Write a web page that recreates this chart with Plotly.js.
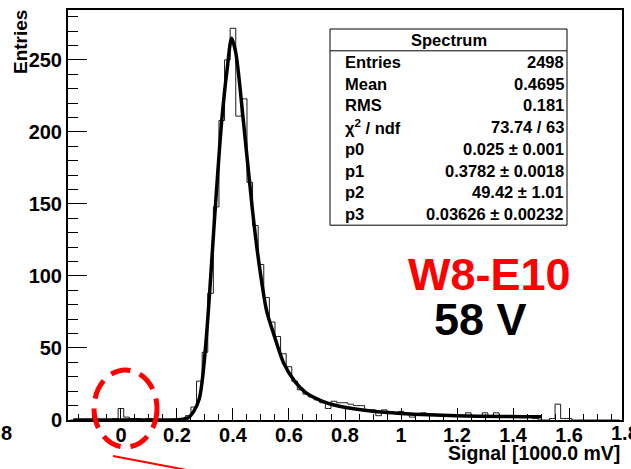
<!DOCTYPE html>
<html><head><meta charset="utf-8">
<script src="https://cdn.plot.ly/plotly-3.0.1.min.js"></script>
<style>html,body{margin:0;padding:0;background:#fff;overflow:hidden}</style>
</head><body><div id="chart" style="width:631px;height:469px"></div>
<script>
// Histogram "Spectrum": bin centres (width 0.02) and entries
const binCenters = [
 -0.18,-0.16,-0.14,-0.12,-0.10,-0.08,-0.06,-0.04,-0.02,0.00,
 0.02,0.04,0.06,0.08,0.10,0.12,0.14,0.16,0.18,0.20,
 0.22,0.24,0.26,0.28,0.30,0.32,0.34,0.36,0.38,0.40,
 0.42,0.44,0.46,0.48,0.50,0.52,0.54,0.56,0.58,0.60,
 0.62,0.64,0.66,0.68,0.70,0.72,0.74,0.76,0.78,0.80,
 0.82,0.84,0.86,0.88,0.90,0.92,0.94,0.96,0.98,1.00,
 1.02,1.04,1.06,1.08,1.10,1.12,1.14,1.16,1.18,1.20,
 1.22,1.24,1.26,1.28,1.30,1.32,1.34,1.36,1.38,1.40,
 1.42,1.44,1.46,1.48,1.50,1.52,1.54,1.56,1.58,1.60,
 1.62,1.64,1.66,1.68,1.70,1.72,1.74,1.76,1.78];
const counts = [
 0,0,0,0,0,0,0,0,1,8,
 2,1,1,0,1,0,0,0,0,0,
 1,3,9,27,47,88,148,208,250,272,
 211,223,165,135,108,85,68,58,46,37,
 27,21,18,16,14,12,8,13,12,12,
 11,10,10,7,7,3,7,5,5,6,
 4,2,4,5,4,4,3,3,3,3,
 3,5,3,3,5,3,5,2,2,2,
 2,2,2,1,0,0,1,11,1,1,
 0,0,0,0,0,0,0,0,0];
// Fit curve
const fitX = [-0.17,0.00,0.18,0.22,0.24,0.26,0.28,0.29,0.30,0.31,0.32,0.335,0.36,0.38,0.395,0.41,0.437,0.47,0.49,0.52,0.545,0.58,0.62,0.66,0.72,0.78,0.90,1.00,1.20,1.50];
const fitY = [0,0,0,0.5,1.5,6,15,27,46,70,98,142,208,245,265,255,208,145,113,76,60,40,27,19,13,9.5,6,4.6,3,2.2];
// Stats box
const statsTitle = "Spectrum";
const statsLabels = ["Entries","Mean","RMS","\u03c7<sup>2</sup> / ndf","p0","p1","p2","p3"];
const statsValues = ["2498","0.4695","0.181","73.74 / 63","0.025 \u00b1 0.001","0.3782 \u00b1 0.0018","49.42 \u00b1 1.01","0.03626 \u00b1 0.00232"];
const xTitle = "Signal [1000.0 mV]";
const yTitle = "Entries";
const label1 = "W8-E10";
const label2 = "58 V";

const FONT = "Liberation Sans, Arial, Helvetica, sans-serif";
const L = 68, T = 10, W = 554, H = 410;
const px = x => (x - L) / W;
const py = y => (T + H - y) / H;

const traces = [
  {x: binCenters, y: counts, type: 'scatter', mode: 'lines',
   line: {shape: 'hvh', color: '#1a1a1a', width: 1}, hoverinfo: 'skip'},
  {x: fitX, y: fitY, type: 'scatter', mode: 'lines',
   line: {shape: 'spline', smoothing: 0.8, color: '#000', width: 3.5}, hoverinfo: 'skip'}
];

const annotations = [];
function ann(text, x, y, size, opts) {
  annotations.push(Object.assign({
    text: text, xref: 'paper', yref: 'paper', x: px(x), y: py(y),
    showarrow: false, xanchor: 'center', yanchor: 'middle',
    font: {family: FONT, size: size, color: '#000', weight: 700}
  }, opts || {}));
}
// axis titles
ann(yTitle, 20.5, 42.5, 19, {textangle: -90});
ann(xTitle, 622, 453, 19.5, {xanchor: 'right'});
// clipped tick labels
ann("1.8", 625, 433, 20);
ann("8", 6, 433, 20);
// stats box
const boxTop = 29, boxBottom = 225.2, boxLeft = 330, boxRight = 567;
const lineH = (boxBottom - boxTop) / 9;
ann(statsTitle, (boxLeft + boxRight) / 2, boxTop + lineH / 2, 16.5);
statsLabels.forEach((s, i) => {
  const yc = boxTop + lineH * (i + 1.5);
  ann(s, 343, yc, 16.5, {xanchor: 'left'});
  ann(statsValues[i], 565.5, yc, 16.5, {xanchor: 'right'});
});
// big labels
ann(label1, 490, 274, 45, {font: {family: FONT, size: 45, color: '#ff0000', weight: 700}});
ann(label2, 480, 319, 45);

const shapes = [
  {type: 'rect', xref: 'paper', yref: 'paper', x0: px(boxLeft), x1: px(boxRight),
   y0: py(boxBottom), y1: py(boxTop), fillcolor: '#fff', line: {color: '#000', width: 1}, layer: 'above'},
  {type: 'line', xref: 'paper', yref: 'paper', x0: px(boxLeft), x1: px(boxRight),
   y0: py(boxTop + lineH), y1: py(boxTop + lineH), line: {color: '#000', width: 1}, layer: 'above'},
  {type: 'circle', xref: 'paper', yref: 'paper', x0: px(94), x1: px(157), y0: py(447), y1: py(370),
   line: {color: '#ff0000', width: 5, dash: '20px,10px'}, layer: 'above'},
  {type: 'line', xref: 'paper', yref: 'paper', x0: px(113), y0: py(456), x1: px(192), y1: py(471),
   line: {color: '#ff0000', width: 2}, layer: 'above'}
];

const layout = {
  width: 631, height: 469,
  margin: {l: L, r: 631 - L - W, t: T, b: 469 - T - H, pad: 0},
  paper_bgcolor: '#fff', plot_bgcolor: '#fff',
  showlegend: false,
  font: {family: FONT, color: '#000'},
  xaxis: {
    range: [-0.189, 1.789], tickmode: 'linear', tick0: 0, dtick: 0.2,
    ticks: 'inside', ticklen: 12, tickwidth: 1, tickcolor: '#000',
    ticklabelstandoff: -4,
    showline: true, linecolor: '#000', linewidth: 2, mirror: true,
    showgrid: false, zeroline: false,
    tickfont: {family: FONT, size: 20, color: '#000', weight: 700},
    minor: {dtick: 0.05, tick0: 0, ticks: 'inside', ticklen: 6, tickwidth: 1, tickcolor: '#000', showgrid: false}
  },
  yaxis: {
    range: [0, 284.7], tickmode: 'linear', tick0: 0, dtick: 50,
    ticks: 'inside', ticklen: 19, tickwidth: 1, tickcolor: '#000',
    showline: true, linecolor: '#000', linewidth: 2, mirror: true,
    showgrid: false, zeroline: false,
    tickfont: {family: FONT, size: 20, color: '#000', weight: 700},
    minor: {dtick: 10, tick0: 0, ticks: 'inside', ticklen: 10, tickwidth: 1, tickcolor: '#000', showgrid: false}
  },
  annotations: annotations,
  shapes: shapes
};

Plotly.newPlot('chart', traces, layout, {staticPlot: true, displayModeBar: false});
</script>
</body></html>
